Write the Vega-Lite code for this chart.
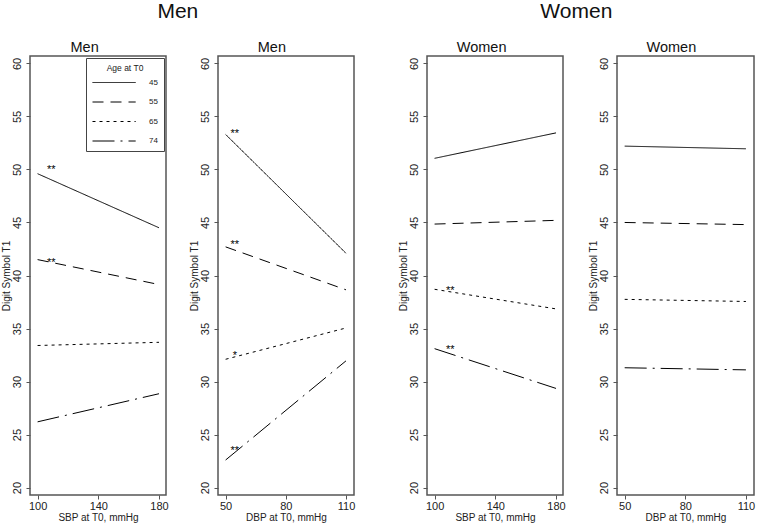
{
  "$schema": "https://vega.github.io/schema/vega-lite/v6.json",
  "padding": {"left": 0, "right": 1, "top": 0, "bottom": 0},
  "background": "white",
  "datasets": {
    "lines": [
      {"panel": "p1", "x": 100, "y": 49.6, "age": "45"}, {"panel": "p1", "x": 180, "y": 44.5, "age": "45"},
      {"panel": "p1", "x": 100, "y": 41.5, "age": "55"}, {"panel": "p1", "x": 180, "y": 39.15, "age": "55"},
      {"panel": "p1", "x": 100, "y": 33.4, "age": "65"}, {"panel": "p1", "x": 180, "y": 33.7, "age": "65"},
      {"panel": "p1", "x": 100, "y": 26.2, "age": "74"}, {"panel": "p1", "x": 180, "y": 28.85, "age": "74"},
      {"panel": "p2", "x": 50, "y": 53.3, "age": "45"}, {"panel": "p2", "x": 110, "y": 42.1, "age": "45"},
      {"panel": "p2", "x": 50, "y": 42.7, "age": "55"}, {"panel": "p2", "x": 110, "y": 38.65, "age": "55"},
      {"panel": "p2", "x": 50, "y": 32.1, "age": "65"}, {"panel": "p2", "x": 110, "y": 35.05, "age": "65"},
      {"panel": "p2", "x": 50, "y": 22.6, "age": "74"}, {"panel": "p2", "x": 110, "y": 31.95, "age": "74"},
      {"panel": "p3", "x": 100, "y": 51.05, "age": "45"}, {"panel": "p3", "x": 180, "y": 53.45, "age": "45"},
      {"panel": "p3", "x": 100, "y": 44.85, "age": "55"}, {"panel": "p3", "x": 180, "y": 45.2, "age": "55"},
      {"panel": "p3", "x": 100, "y": 38.7, "age": "65"}, {"panel": "p3", "x": 180, "y": 36.85, "age": "65"},
      {"panel": "p3", "x": 100, "y": 33.1, "age": "74"}, {"panel": "p3", "x": 180, "y": 29.35, "age": "74"},
      {"panel": "p4", "x": 50, "y": 52.2, "age": "45"}, {"panel": "p4", "x": 110, "y": 51.95, "age": "45"},
      {"panel": "p4", "x": 50, "y": 45.0, "age": "55"}, {"panel": "p4", "x": 110, "y": 44.8, "age": "55"},
      {"panel": "p4", "x": 50, "y": 37.75, "age": "65"}, {"panel": "p4", "x": 110, "y": 37.55, "age": "65"},
      {"panel": "p4", "x": 50, "y": 31.3, "age": "74"}, {"panel": "p4", "x": 110, "y": 31.1, "age": "74"}
    ],
    "notes": [
      {"panel": "p1", "x": 109, "y": 50.2, "label": "**"},
      {"panel": "p1", "x": 109, "y": 41.45, "label": "**"},
      {"panel": "p2", "x": 54.6, "y": 53.6, "label": "**"},
      {"panel": "p2", "x": 54.6, "y": 43.2, "label": "**"},
      {"panel": "p2", "x": 54.6, "y": 32.7, "label": "*"},
      {"panel": "p2", "x": 54.6, "y": 23.75, "label": "**"},
      {"panel": "p3", "x": 110.3, "y": 38.85, "label": "**"},
      {"panel": "p3", "x": 110.3, "y": 33.3, "label": "**"}
    ]
  },
  "spacing": 41,
  "resolve": {"scale": {"x": "independent"}, "legend": {"strokeDash": "independent"}},
  "hconcat": [
    {
      "title": {"text": "Men", "fontSize": 21, "offset": 17},
      "spacing": 19,
      "resolve": {"scale": {"x": "independent"}, "legend": {"strokeDash": "independent"}},
      "hconcat": [
        {
          "width": 136, "height": 439,
          "title": "Men",
          "layer": [
            {
              "data": {"name": "lines"},
              "transform": [{"filter": "datum.panel === 'p1'"}],
              "mark": {"type": "line", "color": "black", "strokeWidth": 1},
              "encoding": {
                "x": {"field": "x", "type": "quantitative", "scale": {"domain": [95, 184.6], "nice": false, "zero": false}, "axis": {"values": [100, 140, 180], "title": "SBP at T0, mmHg"}},
                "y": {"field": "y", "type": "quantitative", "scale": {"domain": [19.3, 60.7], "nice": false, "zero": false}, "axis": {"values": [20, 25, 30, 35, 40, 45, 50, 55, 60], "title": "Digit Symbol T1"}},
                "strokeDash": {"field": "age", "type": "nominal", "scale": {"domain": ["45", "55", "65", "74"], "range": [[1, 0], [11, 7], [3, 4], [22, 6, 2, 6]]},
                  "legend": {"title": "Age at T0", "orient": "top-right", "offset": 2, "symbolType": "M-1,0L8.6,0", "symbolSize": 81, "symbolStrokeColor": "black", "symbolStrokeWidth": 1, "labelOffset": 47, "rowPadding": 10.5, "padding": 6, "titlePadding": 5, "titleAnchor": "middle", "titleFontSize": 8.5, "titleFontWeight": "normal", "labelFontSize": 8, "fillColor": "white", "strokeColor": "#444"}}
              }
            },
            {
              "data": {"name": "notes"},
              "transform": [{"filter": "datum.panel === 'p1'"}],
              "mark": {"type": "text", "fontSize": 11, "dy": 6, "baseline": "alphabetic", "color": "black"},
              "encoding": {
                "x": {"field": "x", "type": "quantitative"},
                "y": {"field": "y", "type": "quantitative"},
                "text": {"field": "label"}
              }
            }
          ]
        },
        {
          "width": 136, "height": 439,
          "title": "Men",
          "layer": [
            {
              "data": {"name": "lines"},
              "transform": [{"filter": "datum.panel === 'p2'"}],
              "mark": {"type": "line", "color": "black", "strokeWidth": 1},
              "encoding": {
                "x": {"field": "x", "type": "quantitative", "scale": {"domain": [46.2, 114], "nice": false, "zero": false}, "axis": {"values": [50, 80, 110], "title": "DBP at T0, mmHg"}},
                "y": {"field": "y", "type": "quantitative", "scale": {"domain": [19.3, 60.7], "nice": false, "zero": false}, "axis": {"values": [20, 25, 30, 35, 40, 45, 50, 55, 60], "title": "Digit Symbol T1"}},
                "strokeDash": {"field": "age", "type": "nominal", "scale": {"domain": ["45", "55", "65", "74"], "range": [[1, 0], [11, 7], [3, 4], [22, 6, 2, 6]]}, "legend": null}
              }
            },
            {
              "data": {"name": "notes"},
              "transform": [{"filter": "datum.panel === 'p2'"}],
              "mark": {"type": "text", "fontSize": 11, "dy": 6, "baseline": "alphabetic", "color": "black"},
              "encoding": {
                "x": {"field": "x", "type": "quantitative"},
                "y": {"field": "y", "type": "quantitative"},
                "text": {"field": "label"}
              }
            }
          ]
        }
      ]
    },
    {
      "title": {"text": "Women", "fontSize": 21, "offset": 17},
      "spacing": 21,
      "resolve": {"scale": {"x": "independent"}, "legend": {"strokeDash": "independent"}},
      "hconcat": [
        {
          "width": 136, "height": 439,
          "title": "Women",
          "layer": [
            {
              "data": {"name": "lines"},
              "transform": [{"filter": "datum.panel === 'p3'"}],
              "mark": {"type": "line", "color": "black", "strokeWidth": 1},
              "encoding": {
                "x": {"field": "x", "type": "quantitative", "scale": {"domain": [95, 184.6], "nice": false, "zero": false}, "axis": {"values": [100, 140, 180], "title": "SBP at T0, mmHg"}},
                "y": {"field": "y", "type": "quantitative", "scale": {"domain": [19.3, 60.7], "nice": false, "zero": false}, "axis": {"values": [20, 25, 30, 35, 40, 45, 50, 55, 60], "title": "Digit Symbol T1"}},
                "strokeDash": {"field": "age", "type": "nominal", "scale": {"domain": ["45", "55", "65", "74"], "range": [[1, 0], [11, 7], [3, 4], [22, 6, 2, 6]]}, "legend": null}
              }
            },
            {
              "data": {"name": "notes"},
              "transform": [{"filter": "datum.panel === 'p3'"}],
              "mark": {"type": "text", "fontSize": 11, "dy": 6, "baseline": "alphabetic", "color": "black"},
              "encoding": {
                "x": {"field": "x", "type": "quantitative"},
                "y": {"field": "y", "type": "quantitative"},
                "text": {"field": "label"}
              }
            }
          ]
        },
        {
          "width": 137, "height": 439,
          "title": "Women",
          "layer": [
            {
              "data": {"name": "lines"},
              "transform": [{"filter": "datum.panel === 'p4'"}],
              "mark": {"type": "line", "color": "black", "strokeWidth": 1},
              "encoding": {
                "x": {"field": "x", "type": "quantitative", "scale": {"domain": [46.2, 114], "nice": false, "zero": false}, "axis": {"values": [50, 80, 110], "title": "DBP at T0, mmHg"}},
                "y": {"field": "y", "type": "quantitative", "scale": {"domain": [19.3, 60.7], "nice": false, "zero": false}, "axis": {"values": [20, 25, 30, 35, 40, 45, 50, 55, 60], "title": "Digit Symbol T1"}},
                "strokeDash": {"field": "age", "type": "nominal", "scale": {"domain": ["45", "55", "65", "74"], "range": [[1, 0], [11, 7], [3, 4], [22, 6, 2, 6]]}, "legend": null}
              }
            }
          ]
        }
      ]
    }
  ],
  "config": {
    "font": "Liberation Sans",
    "view": {"stroke": "#555", "strokeWidth": 1.5},
    "title": {"fontSize": 14.5, "fontWeight": "normal", "color": "#111", "anchor": "middle", "frame": "bounds", "offset": 1, "font": "Liberation Sans"},
    "axis": {"grid": false, "domain": false, "tickColor": "#555", "tickSize": 4, "labelFontSize": 11, "labelColor": "#222", "titleFontSize": 10, "titleFontWeight": "normal", "titleColor": "#222", "labelFlush": false, "labelOverlap": false, "labelPadding": 1, "titlePadding": 1},
    "axisY": {"labelAngle": 270, "labelAlign": "center", "labelBaseline": "bottom", "labelPadding": 4, "titlePadding": 0},
    "legend": {"labelColor": "#222", "titleColor": "#222"}
  }
}
